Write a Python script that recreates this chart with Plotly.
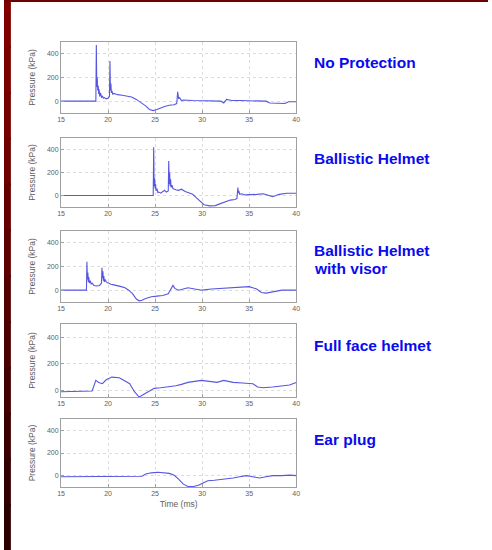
import plotly.graph_objects as go
from plotly.subplots import make_subplots

# ---------------- data ----------------
labels = ["No Protection", "Ballistic Helmet", "Ballistic Helmet<br>with visor",
          "Full face helmet", "Ear plug"]

x_ticks = [15, 20, 25, 30, 35, 40]
y_ticks = [0, 200, 400]

t1 = [15.0, 18.70, 18.75, 18.80, 18.85, 18.90, 18.95, 19.00, 19.05, 19.10, 19.20, 19.30,
      19.40, 19.50, 19.60, 19.80, 20.00, 20.15, 20.20, 20.25, 20.30, 20.35, 20.40, 20.50,
      20.60, 20.80, 21.0, 21.5, 22.0, 22.5, 23.0, 23.5, 24.0, 24.4, 24.8, 25.2, 25.6, 26.0,
      26.5, 27.0, 27.3, 27.4, 27.5, 27.6, 27.8, 28.0, 29.0, 30.0, 31.0, 32.0, 32.3, 32.6,
      32.9, 33.2, 34.0, 35.0, 36.0, 36.8, 37.2, 38.0, 38.8, 39.2, 40.0]
p1 = [0, 0, 475, 120, 200, 90, 130, 60, 100, 40, 70, 30,
      45, 25, 30, 20, 25, 40, 340, 90, 150, 70, 90, 60,
      65, 60, 55, 50, 45, 35, 15, -10, -40, -70, -80, -70, -55, -45,
      -35, -30, -20, 80, 20, 30, 5, 10, 5, 5, 0, 0, -15, 15,
      10, 5, 5, 5, 0, 0, -15, -20, -20, -5, -5]

t2 = [15.0, 24.8, 24.85, 24.9, 24.95, 25.0, 25.05, 25.1, 25.2, 25.3, 25.4, 25.6, 25.8,
      26.0, 26.2, 26.4, 26.45, 26.5, 26.55, 26.6, 26.65, 26.7, 26.8, 26.9, 27.0, 27.2,
      27.5, 27.8, 28.2, 28.6, 29.0, 29.4, 29.8, 30.2, 30.8, 31.4, 31.8, 32.4, 33.0, 33.5,
      33.7, 33.8, 33.85, 33.9, 34.0, 34.2, 34.6, 35.2, 35.8, 36.5, 37.0, 37.5, 38.2, 39.0,
      40.0]
p2 = [0, 0, 420, 80, 150, 60, 100, 40, 60, 25, 30, 20, 35,
      45, 30, 40, 300, 100, 200, 80, 140, 70, 90, 60, 55, 50,
      45, 55, 35, 25, 10, -20, -50, -80, -90, -88, -75, -55, -40, -35,
      -25, 70, 20, 40, 10, 15, 5, 5, 10, 15, 5, -10, 10, 20,
      20]

t3 = [15.0, 17.7, 17.75, 17.8, 17.85, 17.9, 17.95, 18.0, 18.1, 18.2, 18.3, 18.5, 18.8,
      19.1, 19.3, 19.35, 19.4, 19.45, 19.5, 19.55, 19.6, 19.7, 19.8, 20.0, 20.3, 20.6,
      21.0, 21.4, 21.8, 22.2, 22.6, 23.0, 23.3, 23.6, 24.0, 24.6, 25.2, 25.8, 26.4, 26.7,
      26.9, 27.1, 27.5, 28.0, 28.5, 29.2, 30.0, 31.0, 32.0, 33.0, 34.0, 35.0, 35.8, 36.3,
      36.8, 37.5, 38.5, 39.3, 40.0]
p3 = [0, 0, 240, 90, 150, 70, 110, 60, 80, 50, 60, 40, 35,
      40, 60, 190, 100, 160, 80, 120, 70, 90, 70, 60, 50, 45,
      40, 30, 20, 0, -30, -75, -90, -85, -70, -55, -50, -45, -30, 10,
      40, 15, 0, 10, 20, 10, 0, 10, 15, 20, 25, 30, 10, -20,
      -25, -15, 0, 0, 0]

t4 = [15.0, 16.5, 18.0, 18.3, 18.7, 19.0, 19.4, 19.8, 20.4, 20.8, 21.2, 21.8, 22.3,
      22.8, 23.3, 23.9, 24.9, 25.6, 26.4, 27.2, 27.8, 28.5, 29.9, 30.8, 31.6, 32.3, 33.3,
      34.3, 35.4, 35.9, 36.5, 37.5, 38.5, 39.3, 40.0]
p4 = [-10, -10, -10, -5, 75, 60, 50, 80, 100, 100, 95, 70, 50,
      -10, -50, -25, 15, 20, 25, 35, 45, 60, 75, 70, 60, 75, 60,
      55, 50, 25, 20, 25, 35, 40, 60]

t5 = [15.0, 18.0, 21.0, 23.0, 23.6, 24.0, 24.6, 25.3, 26.0, 26.5, 27.0, 27.5, 28.0,
      28.5, 29.1, 29.6, 30.1, 30.6, 31.3, 32.0, 32.7, 33.3, 34.0, 34.7, 35.4, 36.1, 36.8,
      37.5, 38.5, 39.3, 40.0]
p5 = [-10, -10, -10, -10, -5, 15, 25, 30, 25, 20, 5, -30, -75,
      -95, -95, -85, -65, -45, -40, -35, -30, -20, -10, 0, -10, -20, -10,
      0, 0, 5, 0]

series = [(t1, p1), (t2, p2), (t3, p3), (t4, p4), (t5, p5)]
for t, p in series:
    assert len(t) == len(p)

# ---------------- layout (pixel geometry) ----------------
W, H = 492, 550
plot_left, plot_right = 58, 297
plot_rows = [(42, 113), (138, 207), (231, 302), (324, 397), (419, 487)]
y_ranges = [[-100, 500], [-100, 500], [-100, 500], [-50, 500], [-100, 500]]

def px(x):
    return x / W

def py(y):
    return 1 - y / H

fig = make_subplots(rows=5, cols=1)

line_color = "#5656e0"
font_family = "Liberation Sans, Arial, sans-serif"
tick_font = dict(family=font_family, size=7, color="#606060")

for i, (t, p) in enumerate(series):
    r = i + 1
    fig.add_trace(go.Scatter(x=t, y=p, mode="lines",
                             line=dict(color=line_color, width=1.1),
                             showlegend=False, hoverinfo="skip"), row=r, col=1)
    top, bot = plot_rows[i]
    fig.update_xaxes(row=r, col=1, domain=[px(plot_left), px(plot_right)],
                     range=[15, 40], tickvals=x_ticks, ticktext=[str(v) for v in x_ticks],
                     showgrid=True, gridcolor="#dcdcdc", griddash="dot", gridwidth=1,
                     zeroline=False, showline=True, linecolor="#a0a0a0", linewidth=1,
                     mirror=True, ticks="inside", ticklen=3, tickcolor="#a0a0a0",
                     tickfont=tick_font)
    fig.update_yaxes(row=r, col=1, domain=[py(bot), py(top)],
                     range=y_ranges[i], tickvals=y_ticks, ticktext=[str(v) for v in y_ticks],
                     showgrid=True, gridcolor="#dcdcdc", griddash="dot", gridwidth=1,
                     zeroline=False, showline=True, linecolor="#a0a0a0", linewidth=1,
                     mirror=True, ticks="inside", ticklen=3, tickcolor="#a0a0a0",
                     tickfont=tick_font,
                     title=dict(text="Pressure (kPa)", standoff=9,
                                font=dict(family=font_family, size=8.5, color="#606060")))

fig.update_xaxes(row=5, col=1,
                 title=dict(text="Time (ms)", standoff=4,
                            font=dict(family=font_family, size=8.5, color="#606060")))

# right-hand labels
label_font = dict(family=font_family, size=15.5, color="#0a0aee")
label_y = [62, 157, 250, 344, 438]
annotations = []
for i, txt in enumerate(labels):
    lines = txt.split("<br>")
    for k, ln in enumerate(lines):
        annotations.append(dict(text="<b>" + ln + "</b>", x=px(313), y=py(label_y[i] + 1 + 18 * k),
                                xref="paper", yref="paper", xanchor="left", yanchor="middle",
                                showarrow=False, font=label_font))

# dark red border (left band with vertical gradient + thin top line)
band_colors = ["#800000", "#7b0000", "#750000", "#6e0000", "#660000", "#5d0000",
               "#540000", "#4b0000", "#420000", "#3a0000", "#320000", "#2a0000"]
shapes = []
n = len(band_colors)
for k, c in enumerate(band_colors):
    shapes.append(dict(type="rect", xref="paper", yref="paper",
                       x0=0, x1=px(7), y0=max(0, 1 - (k + 1) / n - 0.004), y1=1 - k / n,
                       fillcolor=c, line=dict(width=0), layer="above"))
shapes.append(dict(type="rect", xref="paper", yref="paper", x0=0, x1=1,
                   y0=py(2), y1=1, fillcolor="#6e0000", line=dict(width=0), layer="above"))

fig.update_layout(width=W, height=H, autosize=False,
                  margin=dict(l=0, r=0, t=0, b=0),
                  paper_bgcolor="white", plot_bgcolor="white",
                  annotations=annotations, shapes=shapes, showlegend=False)

fig.write_html("out.html", config={"displayModeBar": False},
               post_script="document.body.style.margin='0';document.body.style.padding='0';")
